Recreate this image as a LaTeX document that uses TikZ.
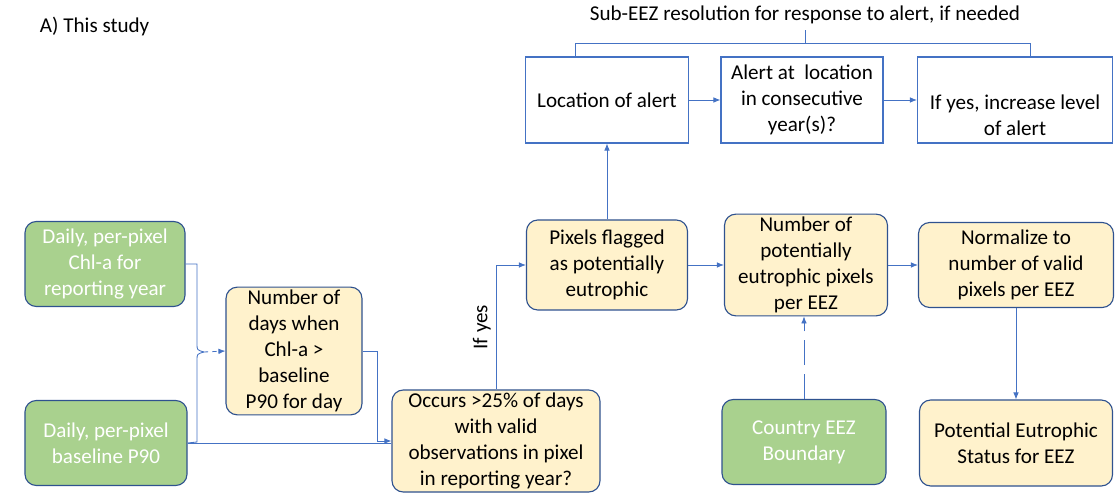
\documentclass[tikz,border=0pt]{standalone}
\usepackage{fontspec}
\setmainfont{Carlito}
\usepackage{xcolor}
\usetikzlibrary{arrows.meta}

\definecolor{ingreen}{HTML}{A9D18E}
\definecolor{stepyellow}{HTML}{FFF2CC}
\definecolor{boxedge}{HTML}{2F528F}
\definecolor{lineblue}{HTML}{4472C4}

\begin{document}
\begin{tikzpicture}[
    font=\fontsize{15}{18.5}\selectfont,
    inputbox/.style={draw=boxedge, fill=ingreen, text=white, rounded corners=8pt,
        align=center, line width=0.8pt, inner sep=2pt},
    stepbox/.style={draw=boxedge, fill=stepyellow, rounded corners=8pt,
        align=center, line width=0.8pt, inner sep=2pt},
    alertbox/.style={draw=lineblue, align=center, line width=0.8pt, inner sep=2pt},
    conn/.style={draw=lineblue, line width=0.6pt, -{Latex[length=5pt,width=4pt]}},
    wire/.style={draw=lineblue, line width=0.6pt}
]
\useasboundingbox (0,0) rectangle (27.875,12.35);

% Headings
\node[anchor=west] (study) at (0.875,11.7) {A) This study};
\node (subeez) at (20.125,11.975) {Sub-EEZ resolution for response to alert, if needed};

% Inputs
\node[inputbox, minimum width=4cm, minimum height=2.125cm] (chl) at (2.625,5.75)
    {Daily, per-pixel\\Chl-a for\\reporting year};
\node[inputbox, minimum width=4.05cm, minimum height=2.125cm] (base) at (2.65,1.275)
    {Daily, per-pixel\\baseline P90};
\node[inputbox, minimum width=4.1cm, minimum height=2.125cm] (country) at (20.1,1.3)
    {Country EEZ\\Boundary};

% Processing steps
\node[stepbox, minimum width=3.4cm, minimum height=3.175cm] (days) at (7.35,3.575)
    {Number of\\days when\\Chl-a >\\baseline\\P90 for day};
\node[stepbox, minimum width=5.2cm, minimum height=2.55cm] (occurs) at (12.4,1.325)
    {Occurs >25\% of days\\with valid\\observations in pixel\\in reporting year?};
\node[stepbox, minimum width=4.025cm, minimum height=2.25cm] (pixels) at (15.175,5.725)
    {Pixels flagged\\as potentially\\eutrophic};
\node[stepbox, minimum width=4.075cm, minimum height=2.525cm] (npix) at (20.15,5.725)
    {Number of\\potentially\\eutrophic pixels\\per EEZ};
\node[stepbox, minimum width=4.875cm, minimum height=2.125cm] (norm) at (25.4,5.725)
    {Normalize to\\number of valid\\pixels per EEZ};
\node[stepbox, minimum width=4.825cm, minimum height=2.15cm] (status) at (25.4,1.275)
    {Potential Eutrophic\\Status for EEZ};

% Alert follow-up
\node[alertbox, minimum width=4.075cm, minimum height=2.15cm] (loc) at (15.175,9.85)
    {Location of alert};
\node[alertbox, minimum width=4.05cm, minimum height=2.15cm] (alert) at (20.05,9.85)
    {Alert at\ \ location\\in consecutive\\year(s)?};
\node[alertbox, minimum width=4.875cm, minimum height=2.15cm] (incr) at (25.375,9.85)
    {\strut\\If yes, increase level\\of alert};

% Bracket joining the two inputs
\coordinate (join) at (5.1,3.55);
\draw[wire] (chl.east) -- (4.925,5.75) -- (4.925,3.75)
    .. controls (4.925,3.6) .. (join);
\draw[wire] (base.east) -- (4.925,1.3) -- (4.925,3.35)
    .. controls (4.925,3.5) .. (join);
\draw[conn, dashed] (join) -- (days.west);

% Daily exceedance to frequency test
\draw[wire] (base.east) -- (occurs.west |- base.east);
\draw[conn] (days.east) -- ++(0.375,0) |- (occurs.west);
\draw[conn] (occurs.north) |- node[pos=0.25, rotate=90, above] {If yes} (pixels.west);

% Main chain
\draw[conn] (pixels.east) -- (npix.west);
\draw[conn] (npix.east) -- (norm.west);
\draw[conn] (norm.south) -- (status.north);
\draw[conn, dash pattern=on 18pt off 6pt] (country.north) -- (country.north |- npix.south);

% Alert chain
\draw[conn] (pixels.north) -- (loc.south);
\draw[conn] (loc.east) -- (alert.west);
\draw[conn] (alert.east) -- (incr.west);

% Brace over the alert boxes
\coordinate (bl) at (14.375,10.925);
\coordinate (br) at (25.75,10.925);
\draw[wire] (bl) -- ++(0,0.35) -| (br);
\draw[wire] (20.125,11.275) -- (20.125,11.6);

\end{tikzpicture}
\end{document}
